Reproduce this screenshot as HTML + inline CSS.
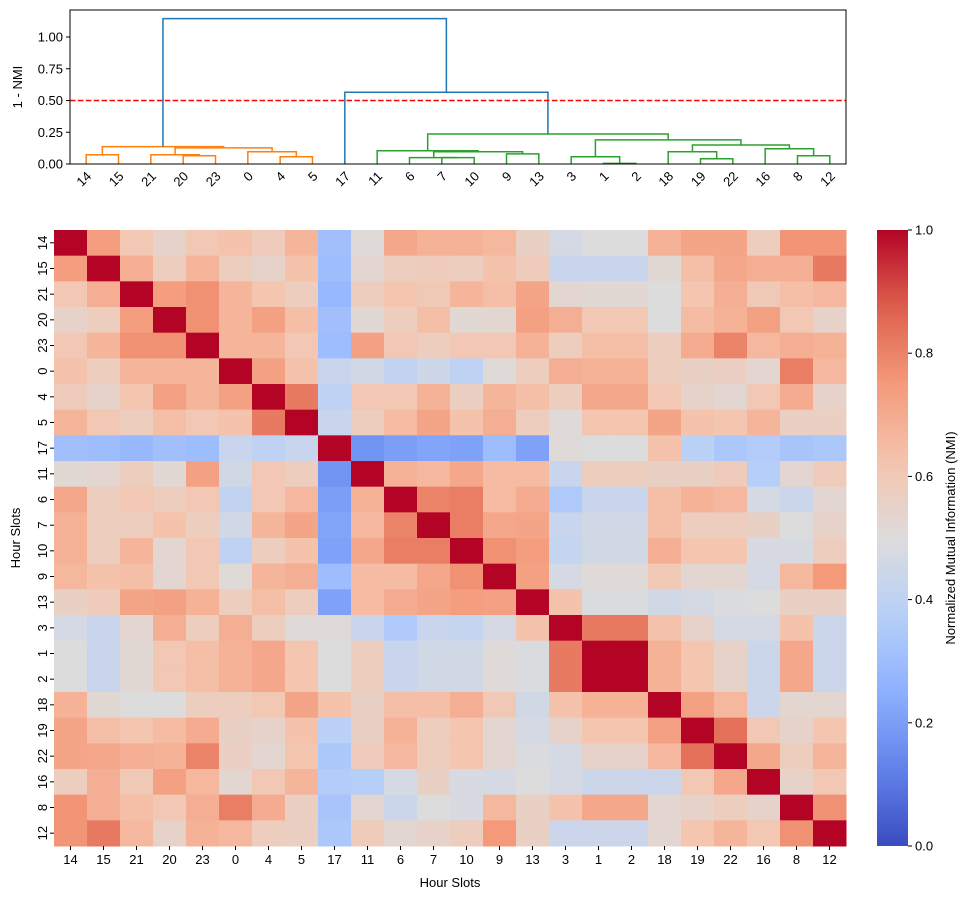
<!DOCTYPE html>
<html><head><meta charset="utf-8"><style>
html,body{margin:0;padding:0;background:#fff;}
svg{display:block;font-family:"Liberation Sans","DejaVu Sans",sans-serif;}
</style></head><body>
<svg id="fig" width="968" height="900" viewBox="0 0 968 900" xmlns="http://www.w3.org/2000/svg"></svg>
<script>
const labels=["14","15","21","20","23","0","4","5","17","11","6","7","10","9","13","3","1","2","18","19","22","16","8","12"];
const nmiRows=[
[1.0,0.74,0.61,0.55,0.61,0.63,0.59,0.67,0.31,0.51,0.71,0.68,0.68,0.66,0.56,0.47,0.50,0.50,0.68,0.72,0.72,0.58,0.76,0.76],
[0.74,1.0,0.69,0.58,0.67,0.58,0.55,0.63,0.30,0.53,0.58,0.59,0.58,0.63,0.59,0.43,0.43,0.43,0.52,0.64,0.71,0.69,0.69,0.82],
[0.61,0.69,1.0,0.74,0.77,0.67,0.62,0.58,0.28,0.58,0.62,0.60,0.67,0.64,0.72,0.53,0.52,0.52,0.50,0.62,0.69,0.60,0.64,0.66],
[0.55,0.58,0.74,1.0,0.77,0.67,0.73,0.64,0.31,0.52,0.58,0.64,0.52,0.53,0.73,0.69,0.61,0.61,0.50,0.65,0.68,0.73,0.61,0.55],
[0.61,0.67,0.77,0.77,1.0,0.67,0.67,0.61,0.30,0.73,0.61,0.58,0.61,0.61,0.68,0.58,0.64,0.64,0.58,0.70,0.80,0.66,0.69,0.68],
[0.63,0.58,0.67,0.67,0.67,1.0,0.73,0.63,0.43,0.46,0.41,0.45,0.40,0.51,0.58,0.69,0.68,0.68,0.58,0.56,0.57,0.53,0.81,0.66],
[0.59,0.55,0.62,0.73,0.67,0.73,1.0,0.82,0.40,0.61,0.61,0.68,0.57,0.67,0.64,0.58,0.71,0.71,0.61,0.55,0.53,0.61,0.70,0.55],
[0.67,0.61,0.58,0.64,0.61,0.63,0.82,1.0,0.43,0.58,0.65,0.72,0.63,0.69,0.58,0.51,0.62,0.62,0.72,0.63,0.62,0.67,0.57,0.57],
[0.31,0.30,0.28,0.31,0.30,0.43,0.40,0.43,1.0,0.17,0.20,0.22,0.21,0.30,0.21,0.51,0.50,0.50,0.63,0.39,0.34,0.36,0.33,0.34],
[0.52,0.53,0.58,0.52,0.73,0.46,0.61,0.58,0.17,1.0,0.68,0.66,0.71,0.65,0.65,0.43,0.58,0.58,0.56,0.56,0.59,0.37,0.53,0.59],
[0.71,0.58,0.61,0.58,0.61,0.41,0.61,0.66,0.20,0.68,1.0,0.80,0.81,0.65,0.70,0.35,0.43,0.43,0.64,0.68,0.66,0.47,0.44,0.53],
[0.68,0.58,0.58,0.63,0.58,0.46,0.67,0.72,0.22,0.66,0.80,1.0,0.81,0.71,0.72,0.43,0.46,0.46,0.64,0.58,0.58,0.56,0.50,0.55],
[0.68,0.58,0.67,0.53,0.61,0.40,0.58,0.63,0.21,0.71,0.81,0.81,1.0,0.77,0.74,0.42,0.46,0.46,0.69,0.62,0.62,0.48,0.48,0.58],
[0.66,0.63,0.64,0.53,0.61,0.51,0.67,0.69,0.30,0.65,0.65,0.71,0.77,1.0,0.73,0.47,0.51,0.51,0.60,0.53,0.53,0.47,0.66,0.75],
[0.56,0.59,0.72,0.73,0.68,0.58,0.64,0.58,0.21,0.65,0.70,0.72,0.74,0.73,1.0,0.63,0.49,0.49,0.46,0.47,0.49,0.50,0.56,0.56],
[0.47,0.43,0.53,0.69,0.58,0.69,0.58,0.51,0.51,0.43,0.35,0.43,0.42,0.47,0.63,1.0,0.82,0.82,0.63,0.55,0.47,0.47,0.63,0.44],
[0.50,0.43,0.52,0.61,0.64,0.68,0.71,0.62,0.50,0.58,0.43,0.46,0.46,0.51,0.49,0.82,1.0,1.0,0.68,0.62,0.55,0.44,0.71,0.44],
[0.50,0.43,0.52,0.61,0.64,0.68,0.71,0.62,0.50,0.58,0.43,0.46,0.46,0.51,0.49,0.82,1.0,1.0,0.68,0.62,0.55,0.44,0.71,0.44],
[0.68,0.52,0.50,0.50,0.58,0.58,0.61,0.72,0.63,0.56,0.64,0.64,0.69,0.60,0.46,0.63,0.68,0.68,1.0,0.73,0.66,0.44,0.53,0.53],
[0.72,0.64,0.62,0.65,0.70,0.56,0.55,0.63,0.39,0.56,0.68,0.58,0.62,0.53,0.47,0.55,0.62,0.62,0.73,1.0,0.84,0.61,0.55,0.62],
[0.72,0.71,0.69,0.68,0.80,0.57,0.53,0.62,0.34,0.59,0.66,0.58,0.62,0.53,0.49,0.47,0.55,0.55,0.66,0.84,1.0,0.71,0.58,0.67],
[0.58,0.69,0.60,0.73,0.66,0.53,0.61,0.67,0.36,0.37,0.47,0.56,0.48,0.47,0.50,0.47,0.44,0.44,0.44,0.61,0.71,1.0,0.55,0.61],
[0.76,0.69,0.64,0.61,0.69,0.81,0.70,0.57,0.33,0.53,0.44,0.50,0.48,0.66,0.56,0.63,0.71,0.71,0.53,0.55,0.58,0.55,1.0,0.77],
[0.76,0.82,0.66,0.55,0.68,0.66,0.58,0.57,0.34,0.59,0.53,0.55,0.58,0.75,0.56,0.44,0.44,0.44,0.53,0.62,0.67,0.61,0.77,1.0]
];
const mergeLeft=[0,3,2,6,5,26,24,11,10,13,32,9,16,15,19,18,22,21,39,37,35,8,30];
const mergeRight=[1,4,25,7,27,28,29,12,31,14,33,34,17,36,20,38,23,40,41,42,43,44,45];
const mergeHeight=[0.073,0.065,0.073,0.057,0.096,0.127,0.137,0.05,0.05,0.08,0.096,0.104,0.005,0.057,0.041,0.096,0.065,0.12,0.15,0.19,0.236,0.565,1.145];
const mergeColor=['o','o','o','o','o','o','o','g','g','g','g','g','g','g','g','g','g','g','g','g','g','b','b'];
const dendroTicks=[0,0.25,0.5,0.75,1.0];
const cbTicks=[0,0.2,0.4,0.6,0.8,1.0];
const threshold=0.5;
</script>
<script>
const NS="http://www.w3.org/2000/svg";
const svg=document.getElementById('fig');
function mk(tag,attrs,parent,text){const e=document.createElementNS(NS,tag);for(const k in attrs)e.setAttribute(k,attrs[k]);if(text!==undefined)e.textContent=text;(parent||svg).appendChild(e);return e;}
const cmapStops=[[0,[58,76,192]],[0.125,[98,130,234]],[0.25,[141,176,254]],[0.375,[184,208,249]],[0.5,[221,220,220]],[0.625,[245,196,173]],[0.75,[244,154,123]],[0.875,[222,96,77]],[1,[180,4,38]]];
function cmap(v){v=Math.max(0,Math.min(1,v));for(let i=1;i<cmapStops.length;i++){if(v<=cmapStops[i][0]){const a=cmapStops[i-1],b=cmapStops[i];const t=(v-a[0])/(b[0]-a[0]);const c=a[1].map((x,j)=>Math.round(x+(b[1][j]-x)*t));return `rgb(${c.join(',')})`;}}return 'rgb(180,4,38)';}
const colorMap={o:'#ff7f0e',g:'#2ca02c',b:'#1f77b4'};

// ---------- Dendrogram ----------
const D={x0:70,x1:846,y0:10,y1:164};
const n=labels.length;
const dx=i=>D.x0+(i+0.5)*(D.x1-D.x0)/n;
const dy=v=>D.y1-v*127;
const dg=mk('g',{});
const pos={},ht={};
for(let i=0;i<n;i++){pos[i]=i;ht[i]=0;}
mergeLeft.forEach((a,k)=>{
  const id=n+k,b=mergeRight[k],h=mergeHeight[k],c=colorMap[mergeColor[k]];
  const p=mk('path',{d:`M${dx(pos[a])},${dy(ht[a])}V${dy(h)}H${dx(pos[b])}V${dy(ht[b])}`,fill:'none',stroke:c,'stroke-width':1.5},dg);
  
  
  pos[id]=(pos[a]+pos[b])/2;ht[id]=h;
});
const th=mk('line',{x1:D.x0,x2:D.x1,y1:dy(threshold),y2:dy(threshold),stroke:'#ff0000','stroke-width':1.5,'stroke-dasharray':'5.5,2.4'});

mk('rect',{x:D.x0,y:D.y0,width:D.x1-D.x0,height:D.y1-D.y0,fill:'none',stroke:'#000','stroke-width':1,});
dendroTicks.forEach(t=>{
  mk('line',{x1:D.x0-4,x2:D.x0,y1:dy(t),y2:dy(t),stroke:'#000'});
  const tx=mk('text',{x:D.x0-7,y:dy(t)+4.5,'text-anchor':'end','font-size':13},svg,t.toFixed(2));
  
});
mk('text',{transform:`translate(22,${(D.y0+D.y1)/2}) rotate(-90)`,'text-anchor':'middle','font-size':13,},svg,'1 - NMI');
labels.forEach((l,i)=>{
  const t=mk('text',{transform:`translate(${dx(i)+6},${D.y1+13}) rotate(-45)`,'text-anchor':'end','font-size':13},svg,l);
  
});

// ---------- Heatmap ----------
const H={x0:54,x1:846,y0:230,y1:846};
const cw=(H.x1-H.x0)/n,ch=(H.y1-H.y0)/n;
const hg=mk('g',{});
nmiRows.forEach((row,r)=>row.forEach((v,c)=>{
  const rc=mk('rect',{x:H.x0+c*cw,y:H.y0+r*ch,width:cw+0.5,height:ch+0.5,fill:cmap(v)},hg);
  
}));
labels.forEach((l,i)=>{
  const x=H.x0+(i+0.5)*cw;
  mk('line',{x1:x,x2:x,y1:H.y1,y2:H.y1+4,stroke:'#000'});
  const t=mk('text',{x:x,y:H.y1+18,'text-anchor':'middle','font-size':13},svg,l);
  
  const y=H.y0+(i+0.5)*ch;
  mk('line',{x1:H.x0-4,x2:H.x0,y1:y,y2:y,stroke:'#000'});
  const t2=mk('text',{transform:`translate(${H.x0-7},${y}) rotate(-90)`,'text-anchor':'middle','font-size':13},svg,l);
  
});
mk('text',{x:(H.x0+H.x1)/2,y:887,'text-anchor':'middle','font-size':13,},svg,'Hour Slots');
mk('text',{transform:`translate(20,${(H.y0+H.y1)/2}) rotate(-90)`,'text-anchor':'middle','font-size':13,},svg,'Hour Slots');

// ---------- Colorbar ----------
const C={x0:877,x1:908,y0:230,y1:846};
const defs=mk('defs',{});
const lg=mk('linearGradient',{id:'cbg',x1:0,y1:1,x2:0,y2:0},defs);
for(let i=0;i<=20;i++){mk('stop',{offset:i/20,'stop-color':cmap(i/20)},lg);}
mk('rect',{x:C.x0,y:C.y0,width:C.x1-C.x0,height:C.y1-C.y0,fill:'url(#cbg)',});
cbTicks.forEach(t=>{
  const y=C.y1-t*(C.y1-C.y0);
  mk('line',{x1:C.x1,x2:C.x1+4,y1:y,y2:y,stroke:'#000'});
  const tx=mk('text',{x:C.x1+7,y:y+4.5,'font-size':13},svg,t.toFixed(1));
  
});
mk('text',{transform:`translate(955,${(C.y0+C.y1)/2}) rotate(-90)`,'text-anchor':'middle','font-size':13,},svg,'Normalized Mutual Information (NMI)');
</script>
</body></html>
